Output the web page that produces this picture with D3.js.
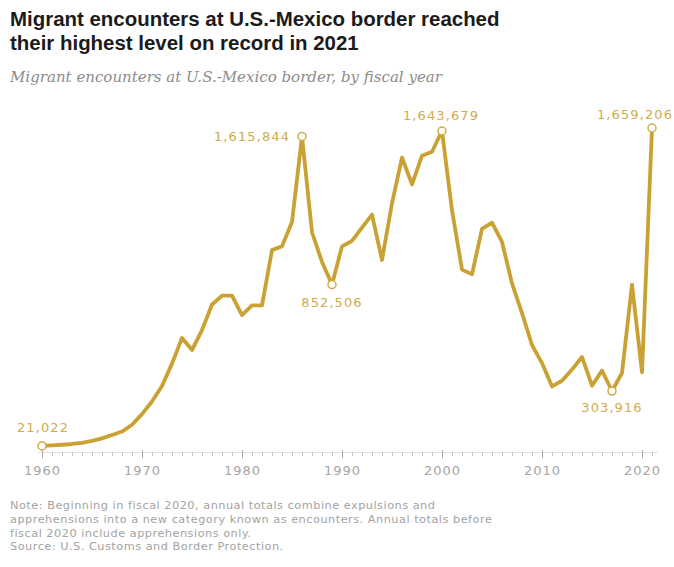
<!DOCTYPE html>
<html>
<head>
<meta charset="utf-8">
<script src="https://cdn.jsdelivr.net/npm/d3@7"></script>
<style>
  html, body { margin: 0; padding: 0; background: #fff; }
  svg { display: block; }
</style>
</head>
<body>
<svg id="chart" width="674" height="567"></svg>
<script>
// Southwest border apprehensions / encounters, by fiscal year
const years = d3.range(1960, 2022);
const encounters = [
  21022, 24000, 27000, 31000, 37000, 47000, 60000, 77000, 95000, 130000,
  185000, 250000, 330000, 445000, 577000, 515000, 618000, 750000, 795000, 795000,
  695000, 745000, 745000, 1030000, 1050000, 1175000, 1615844, 1122067, 969214, 852506,
  1049321, 1077876, 1145574, 1212886, 979101, 1271390, 1507020, 1368707, 1516680, 1537000,
  1643679, 1235718, 929809, 905065, 1139282, 1171396, 1071972, 858638, 705005, 540865,
  447731, 327577, 356873, 414397, 479371, 331333, 408870, 303916, 396579, 851508,
  400651, 1659206
];
const decadeTicks = [1960, 1970, 1980, 1990, 2000, 2010, 2020];

// Annotated points: year and label placement
const callouts = [
  { year: 1960, anchor: "start", dx: -25, dy: -14 },
  { year: 1986, anchor: "end", dx: -12, dy: 5 },
  { year: 1989, anchor: "middle", dx: 0, dy: 22 },
  { year: 2000, anchor: "middle", dx: -1, dy: -11 },
  { year: 2017, anchor: "middle", dx: 0, dy: 21 },
  { year: 2021, anchor: "end", dx: 21, dy: -9 }
];

const titleLines = [
  "Migrant encounters at U.S.-Mexico border reached",
  "their highest level on record in 2021"
];
const subtitle = "Migrant encounters at U.S.-Mexico border, by fiscal year";
const noteLines = [
  "Note: Beginning in fiscal 2020, annual totals combine expulsions and",
  "apprehensions into a new category known as encounters. Annual totals before",
  "fiscal 2020 include apprehensions only.",
  "Source: U.S. Customs and Border Protection."
];

const gold = "#c9a233";
const labelGold = "#cfac48";
const fmt = d3.format(",");

const svg = d3.select("#chart");
const data = years.map((y, i) => ({ year: y, value: encounters[i] }));

// shrink or grow a text's font size so it spans the given width
function fitWidth(sel, width) {
  const node = sel.node();
  const fs = parseFloat(sel.style("font-size"));
  const w = node.getComputedTextLength();
  sel.style("font-size", (fs * width / w).toFixed(2) + "px");
  return fs * width / w;
}

// Title
const titleSel = svg.selectAll("text.title").data(titleLines).join("text")
  .attr("class", "title")
  .attr("x", 10)
  .attr("y", (d, i) => 26 + i * 24)
  .style("font-family", "'Liberation Sans', Arial, sans-serif")
  .style("font-weight", "bold")
  .style("font-size", "20px")
  .style("fill", "#1b1b1b")
  .text(d => d);
const tSize = fitWidth(titleSel.filter((d, i) => i === 0), 490);
titleSel.style("font-size", tSize + "px");

// Subtitle
const sub = svg.append("text")
  .attr("x", 10).attr("y", 82)
  .style("font-family", "'DejaVu Serif', Georgia, serif")
  .style("font-style", "italic")
  .style("font-size", "14px")
  .style("fill", "#8c8c8c")
  .text(subtitle);
fitWidth(sub, 432);

// Scales
const x = d3.scaleLinear().domain([1960, 2021]).range([42, 652]);
const y = d3.scaleLinear().domain([0, 1659206]).range([450, 128]);

// Axis with a tick for every year, labels on decades
const axis = d3.axisBottom(x)
  .tickValues(d3.range(1960, 2022))
  .tickSize(4)
  .tickSizeOuter(0)
  .tickFormat(d => decadeTicks.includes(d) ? String(d) : "");
const gAxis = svg.append("g").attr("transform", "translate(0,452)").call(axis);
gAxis.select(".domain").attr("stroke", "#e2e2e2").attr("d", `M${x(1960) - 4},0.5H${x(2021) + 6}`);
gAxis.selectAll(".tick line").attr("stroke", "#c4c4c4");
gAxis.selectAll(".tick").filter(d => decadeTicks.includes(d)).select("line")
  .attr("y1", -2).attr("y2", 6).attr("stroke", "#aaaaaa");
gAxis.selectAll(".tick text")
  .attr("y", 14)
  .style("font-family", "'DejaVu Sans', sans-serif")
  .style("font-size", "13px")
  .style("letter-spacing", "1px")
  .style("fill", "#a5a5a5");

// Line
const line = d3.line().x(d => x(d.year)).y(d => y(d.value)).curve(d3.curveLinear);
svg.append("path")
  .datum(data)
  .attr("d", line)
  .attr("fill", "none")
  .attr("stroke", gold)
  .attr("stroke-width", 3.8)
  .attr("stroke-linejoin", "round")
  .attr("stroke-linecap", "round");

// Callout markers and values
const calloutData = callouts.map(c => Object.assign({}, c, data.find(d => d.year === c.year)));
svg.selectAll("circle.mark").data(calloutData).join("circle")
  .attr("class", "mark")
  .attr("cx", d => x(d.year))
  .attr("cy", d => y(d.value))
  .attr("r", 4)
  .attr("fill", "#fff")
  .attr("stroke", labelGold)
  .attr("stroke-width", 1.5);
svg.selectAll("text.callout").data(calloutData).join("text")
  .attr("class", "callout")
  .attr("x", d => x(d.year) + d.dx)
  .attr("y", d => y(d.value) + d.dy)
  .attr("text-anchor", d => d.anchor)
  .style("font-family", "'DejaVu Sans', sans-serif")
  .style("font-size", "13px")
  .style("letter-spacing", "1.1px")
  .style("fill", labelGold)
  .text(d => fmt(d.value));

// Notes
const noteSel = svg.selectAll("text.note").data(noteLines).join("text")
  .attr("class", "note")
  .attr("x", 10)
  .attr("y", (d, i) => 509 + i * 13.8)
  .style("font-family", "'DejaVu Sans', sans-serif")
  .style("font-size", "11.3px")
  .style("letter-spacing", "0.5px")
  .style("fill", "#a3a3a3")
  .text(d => d);
</script>
</body>
</html>
